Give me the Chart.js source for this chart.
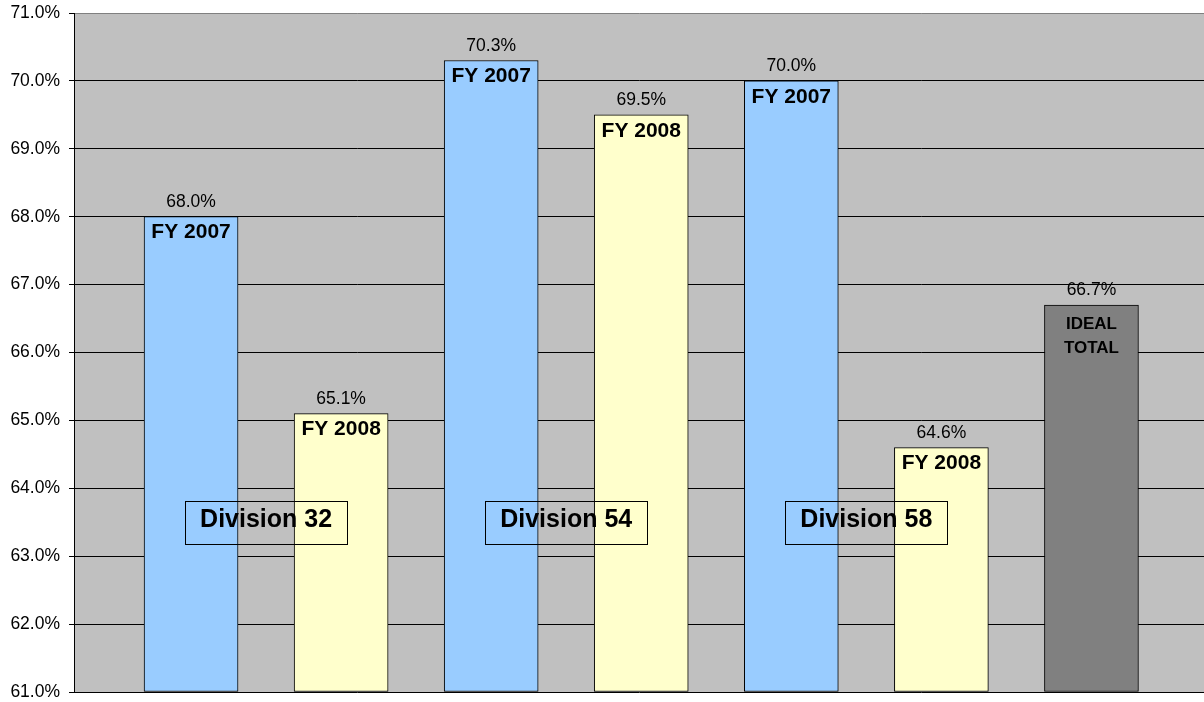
<!DOCTYPE html>
<html lang="en">
<head>
    <meta charset="UTF-8">
    <title>Division comparison FY 2007 / FY 2008</title>
    <script src="https://cdn.jsdelivr.net/npm/chart.js"></script>
    <style>
        html, body {
            margin: 0;
            padding: 0;
            background: #ffffff;
        }

        .container {
            width: 1204px;
            height: 702px;
        }
    </style>
</head>
<body>
    <div class="container">
        <canvas id="grafico" width="1204" height="702"></canvas>
    </div>

    <script>
        // data
        const barNames = ['FY 2007', 'FY 2008', 'FY 2007', 'FY 2008', 'FY 2007', 'FY 2008', 'IDEAL\nTOTAL'];
        const barValues = [68.0, 65.1, 70.3, 69.5, 70.0, 64.6, 66.7];
        const barColors = ['#99CCFF', '#FFFFCC', '#99CCFF', '#FFFFCC', '#99CCFF', '#FFFFCC', '#808080'];
        const divisionNames = ['Division 32', 'Division 54', 'Division 58'];
        const divisionPos = [0.5, 2.5, 4.5];   // between the two bars of each division
        const divisionLevel = 63.5;
        const yTicks = [61, 62, 63, 64, 65, 66, 67, 68, 69, 70, 71];

        const font = '"Liberation Sans", Arial, sans-serif';

        const plotBackground = {
            id: 'plotBackground',
            beforeDraw(chart) {
                const { ctx, chartArea: a } = chart;
                ctx.save();
                ctx.fillStyle = '#C0C0C0';
                ctx.fillRect(a.left, a.top, a.right - a.left, a.bottom - a.top);
                ctx.restore();
            }
        };

        const barLabels = {
            id: 'barLabels',
            afterDatasetsDraw(chart) {
                const { ctx } = chart;
                const meta = chart.getDatasetMeta(0);
                ctx.save();
                ctx.fillStyle = '#000';
                ctx.textAlign = 'center';
                meta.data.forEach((bar, i) => {
                    // value above the bar
                    ctx.font = '17.5px ' + font;
                    ctx.textBaseline = 'alphabetic';
                    ctx.fillText(barValues[i].toFixed(1) + '%', bar.x, bar.y - 10);
                    // name inside the top of the bar
                    const lines = barNames[i].split('\n');
                    ctx.textBaseline = 'middle';
                    if (lines.length > 1) {
                        ctx.font = 'bold 17px ' + font;
                        lines.forEach((l, k) => ctx.fillText(l, bar.x, bar.y + 19 + k * 24));
                    } else {
                        ctx.font = 'bold 21px ' + font;
                        ctx.fillText(lines[0], bar.x, bar.y + 16);
                    }
                });

                // division boxes
                const xs = chart.scales.x, ys = chart.scales.y;
                divisionNames.forEach((name, i) => {
                    const cx = xs.getPixelForValue(divisionPos[i]);
                    const cy = ys.getPixelForValue(divisionLevel);
                    ctx.strokeStyle = '#000';
                    ctx.lineWidth = 1;
                    ctx.strokeRect(Math.round(cx - 81) + 0.5, Math.round(cy - 21) + 0.5, 162, 43);
                    ctx.font = 'bold 25px ' + font;
                    ctx.textBaseline = 'middle';
                    ctx.fillText(name, cx, cy - 2);
                });
                ctx.restore();
            }
        };

        const ctx = document.getElementById('grafico').getContext('2d');
        const myChart = new Chart(ctx, {
            type: 'bar',
            data: {
                datasets: [{
                    data: barValues.map((v, i) => ({ x: i, y: v })),
                    backgroundColor: barColors,
                    borderColor: '#000',
                    borderWidth: 1,
                    borderSkipped: false,
                    barThickness: 94,
                    base: 61
                }]
            },
            options: {
                responsive: false,
                animation: false,
                layout: {
                    padding: { top: 13, right: 0, bottom: 10, left: 0 }
                },
                plugins: {
                    legend: { display: false },
                    tooltip: { enabled: false }
                },
                scales: {
                    x: {
                        type: 'linear',
                        offset: false,
                        min: -0.78,
                        max: 6.75,
                        display: false
                    },
                    y: {
                        min: 61,
                        max: 71,
                        afterFit(scale) {
                            scale.width = 74;
                            scale.paddingTop = 0;
                            scale.paddingBottom = 0;
                        },
                        afterBuildTicks(scale) { scale.ticks = yTicks.map(v => ({ value: v })); },
                        border: { display: true, color: '#000', width: 1 },
                        grid: {
                            color: c => c.tick && c.tick.value === 71 ? '#808080' : '#000',
                            lineWidth: 1,
                            tickLength: 5,
                            tickColor: '#000'
                        },
                        ticks: {
                            color: '#000',
                            padding: 9,
                            font: { family: font, size: 17.5 },
                            callback: v => v.toFixed(1) + '%'
                        }
                    }
                }
            },
            plugins: [plotBackground, barLabels]
        });
    </script>
</body>
</html>
